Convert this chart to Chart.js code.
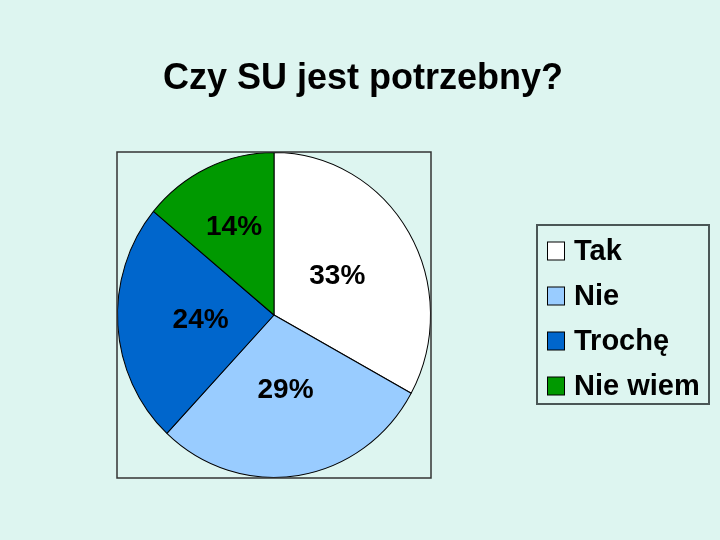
<!DOCTYPE html>
<html>
<head>
<meta charset="utf-8">
<script src="https://cdn.jsdelivr.net/npm/chart.js@4"></script>
<style>
  html, body { margin: 0; padding: 0; background: #ddf5f0; }
  #wrap { width: 720px; height: 540px; }
</style>
</head>
<body>
<div id="wrap"><canvas id="pieChart" width="720" height="540"></canvas></div>
<script>
const categories = ['Tak', 'Nie', 'Trochę', 'Nie wiem'];
const shares = [33, 29, 24, 14];
const sliceColors = ['#ffffff', '#99ccff', '#0066cc', '#009900'];
const chartTitle = 'Czy SU jest potrzebny?';

const FONT = '"Liberation Sans", Arial, sans-serif';

// the original pie is a little taller than wide, stretch it to fill its frame
const ellipse = {
    id: 'ellipse',
    beforeDatasetsDraw(chart) {
        const a = chart.chartArea;
        const cx = (a.left + a.right) / 2, cy = (a.top + a.bottom) / 2;
        const m = Math.min(a.width, a.height);
        const ctx = chart.ctx;
        ctx.save();
        ctx.translate(cx, cy);
        ctx.scale(a.width / m, a.height / m);
        ctx.translate(-cx, -cy);
    },
    afterDatasetsDraw(chart) {
        chart.ctx.restore();
    }
};

// title, frame round the plot, percentage labels and the boxed legend
const decorations = {
    id: 'decorations',
    afterDraw(chart) {
        const ctx = chart.ctx;
        const a = chart.chartArea;
        const sy = a.height / Math.min(a.width, a.height);
        const cy = (a.top + a.bottom) / 2;

        ctx.save();
        ctx.fillStyle = '#000';
        ctx.font = 'bold 36px ' + FONT;
        ctx.textAlign = 'center';
        ctx.textBaseline = 'alphabetic';
        ctx.fillText(chartTitle, 363, 89);

        ctx.strokeStyle = '#333';
        ctx.lineWidth = 1.5;
        ctx.strokeRect(a.left, a.top, a.width, a.height);

        // labels
        ctx.font = 'bold 28px ' + FONT;
        ctx.textBaseline = 'middle';
        const meta = chart.getDatasetMeta(0);
        meta.data.forEach((arc, i) => {
            const mid = (arc.startAngle + arc.endAngle) / 2;
            const r = arc.outerRadius * (shares[i] < 20 ? 0.6 : 0.47);
            const x = arc.x + Math.cos(mid) * r;
            const y = cy + (arc.y - cy + Math.sin(mid) * r) * sy;
            ctx.fillText(shares[i] + '%', x, y);
        });

        // legend
        const lx = 537, ly = 225, lw = 172, lh = 179;
        ctx.strokeStyle = '#4a5656';
        ctx.lineWidth = 2;
        ctx.strokeRect(lx, ly, lw, lh);
        ctx.font = 'bold 29px ' + FONT;
        ctx.textAlign = 'left';
        ctx.lineWidth = 1;
        ctx.strokeStyle = '#000';
        categories.forEach((c, i) => {
            const y = ly + 26 + i * 45;
            ctx.fillStyle = sliceColors[i];
            ctx.fillRect(547.5, y - 9, 17, 18);
            ctx.strokeRect(547.5, y - 9, 17, 18);
            ctx.fillStyle = '#000';
            ctx.fillText(c, 574, y + 1);
        });
        ctx.restore();
    }
};

new Chart(document.getElementById('pieChart'), {
    type: 'pie',
    data: {
        labels: categories,
        datasets: [{
            data: shares,
            backgroundColor: sliceColors,
            borderColor: '#000',
            borderWidth: 1
        }]
    },
    options: {
        responsive: false,
        animation: false,
        events: [],
        layout: { padding: { left: 117, right: 289, top: 152, bottom: 62 } },
        plugins: {
            legend: { display: false },
            tooltip: { enabled: false },
            title: { display: false }
        }
    },
    plugins: [ellipse, decorations]
});
</script>
</body>
</html>
